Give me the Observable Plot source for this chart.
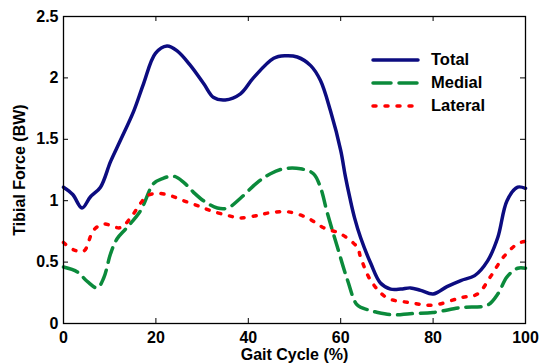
<!DOCTYPE html>
<html>
<head>
<meta charset="utf-8">
<script src="https://cdn.jsdelivr.net/npm/d3@7"></script>
<script src="https://cdn.jsdelivr.net/npm/@observablehq/plot@0.6"></script>
<style>
  html, body { margin: 0; padding: 0; background: #fff; }
  #wrap { position: relative; width: 540px; height: 364px; overflow: hidden; }
  #legend { position: absolute; left: 370px; top: 48px; font: bold 16.5px "Liberation Sans", Arial, sans-serif; }
  #legend .row { display: flex; align-items: center; height: 23px; }
  #legend svg { margin-right: 10px; }
  .axlabel text { font-size: 16.5px; }
</style>
</head>
<body>
<div id="wrap"></div>
<script>
// Gait cycle (%) and tibial forces (BW)
const totalX = [0, 2, 4, 5.8, 8, 10.2, 12.3, 15.2, 17.3, 19.9, 22.4, 24.6, 27.5, 30.4, 32.5, 35, 38.3, 41.1, 45.5, 48, 50.6, 53.5, 55.6, 57.8, 60, 61, 62, 63, 64.3, 66.5, 68.6, 70.8, 73, 75.1, 77.3, 80, 83, 86, 89, 91.8, 94, 96, 98.3, 100];
const totalY = [1.11, 1.05, 0.94, 1.03, 1.11, 1.32, 1.49, 1.73, 1.95, 2.20, 2.26, 2.22, 2.10, 1.95, 1.84, 1.82, 1.87, 2.00, 2.16, 2.18, 2.17, 2.10, 1.98, 1.73, 1.41, 1.20, 1.02, 0.86, 0.70, 0.49, 0.33, 0.28, 0.28, 0.29, 0.27, 0.24, 0.30, 0.35, 0.39, 0.51, 0.70, 1.00, 1.11, 1.10];

const medialX = [0, 3, 5.2, 7.3, 8.7, 10.2, 11.6, 13.7, 16.7, 19.5, 21.4, 23.8, 26, 28.1, 30.3, 33.3, 35.5, 38.3, 42, 44.8, 47.6, 51.3, 54.1, 55.6, 57.1, 59.3, 61.5, 63.6, 66, 68, 71.5, 75, 80, 86, 91.8, 94, 96, 98.3, 100];
const medialY = [0.46, 0.42, 0.34, 0.29, 0.37, 0.57, 0.69, 0.78, 0.92, 1.14, 1.18, 1.20, 1.15, 1.07, 1.00, 0.94, 0.94, 1.02, 1.15, 1.22, 1.26, 1.26, 1.22, 1.11, 0.90, 0.62, 0.35, 0.15, 0.11, 0.09, 0.07, 0.08, 0.09, 0.13, 0.15, 0.24, 0.38, 0.45, 0.45];

const lateralX = [0, 2.2, 4.4, 6.5, 8.7, 12.3, 14.5, 16.7, 18.1, 20.3, 23.2, 26, 29, 31.8, 35.5, 38.3, 42, 44.4, 48.5, 52.8, 56.3, 60, 63.6, 64.3, 66.5, 70, 75, 80, 86, 89.6, 92.4, 95.2, 98.3, 100];
const lateralY = [0.66, 0.60, 0.59, 0.76, 0.81, 0.78, 0.86, 0.98, 1.04, 1.06, 1.04, 1.00, 0.96, 0.92, 0.88, 0.86, 0.88, 0.90, 0.91, 0.86, 0.78, 0.73, 0.62, 0.54, 0.35, 0.21, 0.17, 0.15, 0.21, 0.24, 0.38, 0.54, 0.65, 0.67];

const seriesNames = ["Total", "Medial", "Lateral"];
const seriesColors = ["#0c0c80", "#0b8a3b", "#ff0000"];
const seriesDash = [null, "15,8", "3,9"];
const seriesWidth = [3.5, 3.5, 3.5];

const xTicks = [0, 20, 40, 60, 80, 100];
const yTicks = [0, 0.5, 1, 1.5, 2, 2.5];
const yTickLabels = ["0", "0.5", "1", "1.5", "2", "2.5"];

const rows = [];
[[totalX, totalY], [medialX, medialY], [lateralX, lateralY]].forEach(([xs, ys], i) => {
  xs.forEach((x, j) => rows.push({series: seriesNames[i], x, y: ys[j]}));
});

const W = 540, H = 364, mT = 16, mB = 41, mL = 63, mR = 15;
const frameH = H - mT - mB, frameW = W - mL - mR;
const tick = 5;

const chart = Plot.plot({
  width: W, height: H,
  marginTop: mT, marginBottom: mB, marginLeft: mL, marginRight: mR,
  style: {fontFamily: "'Liberation Sans', Arial, sans-serif", fontWeight: "bold", fontSize: "16px", color: "#000", background: "#fff"},
  x: {domain: [0, 100]},
  y: {domain: [0, 2.5]},
  marks: [
    // inward ticks on all four sides
    Plot.tickX(xTicks, {x: d => d, insetTop: frameH - tick, stroke: "#000", strokeWidth: 1}),
    Plot.tickX(xTicks, {x: d => d, insetBottom: frameH - tick, stroke: "#000", strokeWidth: 1}),
    Plot.tickY(yTicks, {y: d => d, insetRight: frameW - tick, stroke: "#000", strokeWidth: 1}),
    Plot.tickY(yTicks, {y: d => d, insetLeft: frameW - tick, stroke: "#000", strokeWidth: 1}),
    ...seriesNames.map((name, i) => Plot.line(rows.filter(r => r.series === name), {
      x: "x", y: "y", curve: "catmull-rom",
      stroke: seriesColors[i], strokeWidth: seriesWidth[i],
      strokeDasharray: seriesDash[i], strokeLinecap: "round", strokeLinejoin: "round"
    })),
    Plot.frame({stroke: "#000", strokeWidth: 1.3}),
    Plot.axisX({ticks: xTicks, tickSize: 0, tickPadding: 8, tickFormat: d => String(d), label: null}),
    Plot.axisX({ticks: [], label: "Gait Cycle (%)", labelAnchor: "center", labelOffset: 36, labelArrow: "none", className: "axlabel"}),
    Plot.axisY({ticks: yTicks, tickSize: 0, tickPadding: 5, tickFormat: (d, i) => yTickLabels[yTicks.indexOf(d)], label: null}),
    Plot.axisY({ticks: [], label: "Tibial Force (BW)", labelAnchor: "center", labelOffset: 50, labelArrow: "none", className: "axlabel"})
  ]
});

const wrap = document.getElementById("wrap");
wrap.appendChild(chart);

// in-plot legend
const legend = document.createElement("div");
legend.id = "legend";
seriesNames.forEach((name, i) => {
  const row = document.createElement("div");
  row.className = "row";
  const svg = d3.create("svg").attr("width", 51).attr("height", 10);
  svg.append("line").attr("x1", 3).attr("x2", 48).attr("y1", 5).attr("y2", 5)
    .attr("stroke", seriesColors[i]).attr("stroke-width", seriesWidth[i])
    .attr("stroke-linecap", "round")
    .attr("stroke-dasharray", i === 1 ? "18,8" : i === 2 ? "3,9" : null);
  row.appendChild(svg.node());
  const span = document.createElement("span");
  span.textContent = name;
  row.appendChild(span);
  legend.appendChild(row);
});
wrap.appendChild(legend);
</script>
</body>
</html>
